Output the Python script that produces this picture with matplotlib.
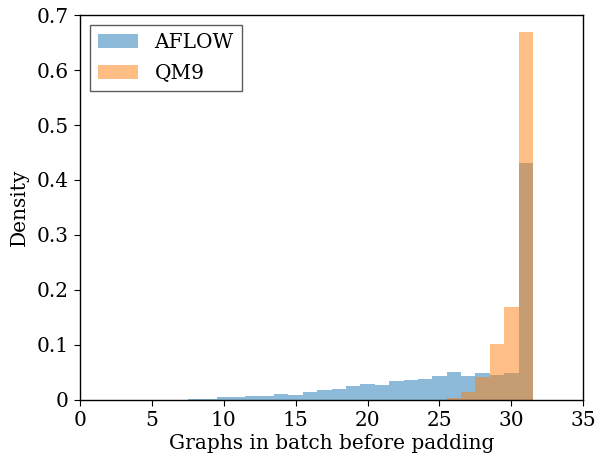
import numpy as np
import matplotlib
matplotlib.use("Agg")
import matplotlib.pyplot as plt

# graphs per batch (integer values) and density
aflow_counts = [8, 9, 10, 11, 12, 13, 14, 15, 16, 17, 18, 19, 20,
                21, 22, 23, 24, 25, 26, 27, 28, 29, 30, 31]
aflow_density = [0.001, 0.0024, 0.0046, 0.005, 0.0073, 0.0073, 0.011, 0.0097,
                 0.0145, 0.0176, 0.0206, 0.0248, 0.029, 0.0273, 0.0345, 0.0358,
                 0.038, 0.043, 0.050, 0.0436, 0.0485, 0.045, 0.049, 0.431]

qm9_counts = [26, 27, 28, 29, 30, 31]
qm9_density = [0.003, 0.015, 0.042, 0.102, 0.169, 0.669]

plt.rcParams['font.family'] = 'DejaVu Serif'
plt.rcParams['font.size'] = 14.5
plt.rcParams['xtick.major.size'] = 4.5
plt.rcParams['ytick.major.size'] = 4.5
plt.rcParams['axes.linewidth'] = 1.0

fig = plt.figure(figsize=(5.97, 4.58), dpi=100)
ax = fig.add_axes([0.134, 0.127, 0.843, 0.840])

bins = np.arange(0.5, 32.5, 1)
ax.hist(aflow_counts, bins=bins, weights=aflow_density, alpha=0.5,
        color='C0', label='AFLOW')
ax.hist(qm9_counts, bins=bins, weights=qm9_density, alpha=0.5,
        color='C1', label='QM9')

ax.set_xlim(0, 35)
ax.set_ylim(0, 0.7)
ax.set_xticks(np.arange(0, 36, 5))
ax.set_yticks(np.arange(0, 0.71, 0.1))
ax.set_yticklabels(['0', '0.1', '0.2', '0.3', '0.4', '0.5', '0.6', '0.7'])
ax.set_xlabel('Graphs in batch before padding', labelpad=3)
ax.set_ylabel('Density', labelpad=6)

leg = ax.legend(loc='upper left', fancybox=False, edgecolor='0.2',
                fontsize=14.5, handlelength=2.0, labelspacing=0.6)
leg.get_frame().set_linewidth(1.0)

fig.savefig('out.png', dpi=100)
